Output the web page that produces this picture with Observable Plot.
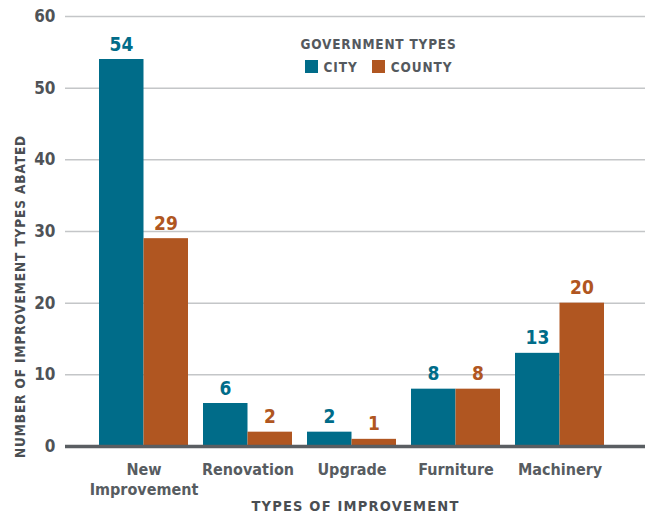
<!DOCTYPE html>
<html>
<head>
<meta charset="utf-8">
<script src="https://cdn.jsdelivr.net/npm/d3@7"></script>
<script src="https://cdn.jsdelivr.net/npm/@observablehq/plot@0.6"></script>
<style>
  body { margin: 0; background: #fff; }
  #wrap { position: relative; width: 645px; height: 517px; font-family: "Liberation Sans Narrow", "DejaVu Sans Condensed", sans-serif; }
  #legend { position: absolute; left: 0; top: 36px; width: 757px; text-align: center; color: #54595e; font-weight: bold; }
  #legend .title { font-size: 13.5px; letter-spacing: 0.8px; line-height: 16px; }
  #legend .items { margin-top: 7px; font-size: 13.5px; letter-spacing: 0.9px; line-height: 16px; }
  #legend .sw { display: inline-block; width: 13px; height: 13px; vertical-align: -1px; margin-right: 6px; }
  #legend .item { margin: 0 7px; }
</style>
</head>
<body>
<div id="wrap"></div>
<script>
const categories = ["New Improvement", "Renovation", "Upgrade", "Furniture", "Machinery"];
const categoryLabels = ["New\nImprovement", "Renovation", "Upgrade", "Furniture", "Machinery"];
const cityValues = [54, 6, 2, 8, 13];
const countyValues = [29, 2, 1, 8, 20];
const yTicks = [0, 10, 20, 30, 40, 50, 60];
const seriesNames = ["CITY", "COUNTY"];
const seriesColors = ["#006c89", "#b05621"];

const city = categories.map((c, i) => ({category: c, value: cityValues[i]}));
const county = categories.map((c, i) => ({category: c, value: countyValues[i]}));
const labelOf = new Map(categories.map((c, i) => [c, categoryLabels[i]]));

const font = '"Liberation Sans Narrow", "DejaVu Sans Condensed", sans-serif';

const chart = Plot.plot({
  width: 645,
  height: 517,
  marginLeft: 65,
  marginRight: 0,
  marginTop: 16,
  marginBottom: 71,
  style: {fontFamily: font, background: "#fff", overflow: "visible"},
  x: {domain: categories, insetLeft: 33, insetRight: 40, paddingInner: 0.148, paddingOuter: 0},
  y: {domain: [0, 60]},
  marks: [
    Plot.ruleY(yTicks.filter(d => d > 0), {stroke: "#c4c6c8", strokeWidth: 1.5}),
    Plot.barY(city, {x: "category", y: "value", fill: seriesColors[0], insetRight: 44.5}),
    Plot.barY(county, {x: "category", y: "value", fill: seriesColors[1], insetLeft: 44.5}),
    Plot.ruleY([0], {stroke: "#5a5e62", strokeWidth: 3.5}),
    Plot.text(city, {x: "category", y: "value", text: d => String(d.value), dx: -22.5, dy: -15, fill: seriesColors[0], fontSize: 19, fontWeight: "bold"}),
    Plot.text(county, {x: "category", y: "value", text: d => String(d.value), dx: 22, dy: -15, fill: seriesColors[1], fontSize: 19, fontWeight: "bold"}),
    Plot.axisY({ticks: yTicks, tickSize: 0, tickPadding: 10, label: null, fontSize: 17, fontWeight: "bold", color: "#4f5357"}),
    Plot.axisX({tickSize: 0, tickPadding: 14, label: null, tickFormat: d => labelOf.get(d), fontSize: 16, fontWeight: "bold", color: "#575c61", lineHeight: 1.25}),
    Plot.text(["TYPES OF IMPROVEMENT"], {frameAnchor: "bottom", dy: 64, fontSize: 14.5, fontWeight: "bold", fill: "#4a4e52"}),
    Plot.text(["NUMBER OF IMPROVEMENT TYPES ABATED"], {frameAnchor: "left", textAnchor: "middle", rotate: -90, dx: -45, dy: 65, fontSize: 13.5, fontWeight: "bold", fill: "#4a4e52"})
  ]
});

const wrap = document.getElementById("wrap");
wrap.appendChild(chart);
chart.querySelectorAll("text").forEach(t => {
  if (t.textContent.startsWith("NUMBER OF")) t.setAttribute("letter-spacing", "0.9");
  if (t.textContent.startsWith("TYPES OF")) t.setAttribute("letter-spacing", "1.2");
});

const legend = document.createElement("div");
legend.id = "legend";
legend.innerHTML = `<div class="title">GOVERNMENT TYPES</div><div class="items">` +
  seriesNames.map((n, i) => `<span class="item"><span class="sw" style="background:${seriesColors[i]}"></span>${n}</span>`).join("") +
  `</div>`;
wrap.appendChild(legend);
</script>
</body>
</html>
